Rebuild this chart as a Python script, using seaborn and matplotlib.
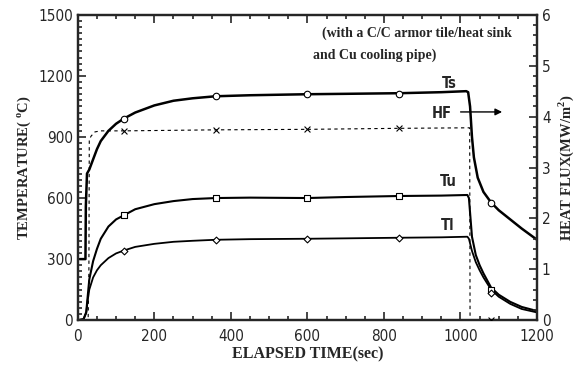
import numpy as np
import pandas as pd
import matplotlib.pyplot as plt
import seaborn as sns
from matplotlib.ticker import MultipleLocator

# surface temperature Ts
ts_t = [5, 20, 21, 24, 30, 40, 50, 60, 80, 100, 120, 150, 200, 250, 300, 360, 450, 600, 700, 840, 950, 1015,
        1020, 1025, 1030, 1035, 1045, 1060, 1080, 1100, 1130, 1160, 1200]
ts_v = [300, 300, 560, 720, 740, 790, 840, 880, 930, 965, 990, 1020, 1055, 1078, 1090, 1100, 1105, 1110, 1112, 1115, 1120, 1125,
        1120, 1050, 900, 800, 700, 630, 578, 540, 495, 450, 395]
# upper thermocouple Tu
tu_t = [0, 15, 22, 26, 30, 40, 50, 60, 80, 100, 120, 150, 200, 250, 300, 360, 450, 600, 700, 840, 950, 1018,
        1022, 1030, 1040, 1050, 1060, 1080, 1100, 1130, 1160, 1200]
tu_v = [0, 5, 40, 120, 200, 290, 350, 400, 460, 495, 515, 545, 570, 585, 595, 600, 602, 600, 605, 610, 612, 615,
        600, 410, 320, 270, 230, 160, 125, 90, 65, 45]
# lower thermocouple Tl
tl_t = [0, 15, 22, 26, 30, 40, 50, 60, 80, 100, 120, 150, 200, 250, 300, 360, 450, 600, 700, 840, 950, 1018,
        1022, 1030, 1040, 1050, 1060, 1080, 1100, 1130, 1160, 1200]
tl_v = [0, 5, 35, 100, 150, 210, 245, 270, 305, 328, 342, 360, 375, 385, 390, 395, 398, 400, 402, 405, 407, 410,
        400, 340, 285, 245, 210, 150, 115, 80, 55, 38]
# heat flux HF (MW/m2)
hf_t = [0, 27, 29, 30, 35, 45, 60, 120, 360, 600, 840, 1020, 1024, 1025, 1200]
hf_v = [0, 0, 1.0, 3.55, 3.62, 3.70, 3.72, 3.72, 3.74, 3.75, 3.77, 3.78, 3.78, 0, 0]

# marker positions
mk_t = [120, 360, 600, 840, 1080]
ts_mk = [990, 1100, 1110, 1112, 578]
tu_mk = [515, 600, 600, 612, 150]
tl_mk = [342, 395, 400, 405, 132]
hf_mk_t = [120, 360, 600, 840, 1080]
hf_mk = [3.72, 3.74, 3.75, 3.77, 0.0]

sns.set_style("ticks")
plt.rcParams['font.family'] = ['DejaVu Sans']
plt.rcParams['font.stretch'] = 'condensed'
serif = ['Liberation Serif', 'DejaVu Serif']

fig = plt.figure(figsize=(5.85, 3.71), dpi=100)
ax = fig.add_axes([0.133, 0.137, 0.785, 0.823])
ax2 = ax.twinx()

df_ts = pd.DataFrame({"t": ts_t, "v": ts_v})
df_tu = pd.DataFrame({"t": tu_t, "v": tu_v})
df_tl = pd.DataFrame({"t": tl_t, "v": tl_v})
df_hf = pd.DataFrame({"t": hf_t, "v": hf_v})

sns.lineplot(data=df_ts, x="t", y="v", ax=ax, color="black", lw=1.8, sort=False)
sns.lineplot(data=df_tu, x="t", y="v", ax=ax, color="black", lw=1.5, sort=False)
sns.lineplot(data=df_tl, x="t", y="v", ax=ax, color="black", lw=1.3, sort=False)
sns.lineplot(data=df_hf, x="t", y="v", ax=ax2, color="black", lw=0.8, sort=False, linestyle=(0, (3, 3)))

ax.scatter(mk_t, ts_mk, marker="o", s=22, facecolor="white", edgecolor="black", lw=0.8, zorder=3)
ax.scatter(mk_t, tu_mk, marker="s", s=20, facecolor="white", edgecolor="black", lw=0.8, zorder=3)
ax.scatter(mk_t, tl_mk, marker="D", s=12, facecolor="white", edgecolor="black", lw=0.8, zorder=3)
ax2.scatter(hf_mk_t, hf_mk, marker="x", s=18, color="black", lw=0.8, zorder=3)

ax.set_xlim(0, 1200)
ax.set_ylim(0, 1500)
ax2.set_ylim(0, 6)
ax.xaxis.set_major_locator(MultipleLocator(200))
ax.xaxis.set_minor_locator(MultipleLocator(50))
ax.yaxis.set_major_locator(MultipleLocator(300))
ax.yaxis.set_minor_locator(MultipleLocator(30))
ax2.yaxis.set_major_locator(MultipleLocator(1))
ax2.yaxis.set_minor_locator(MultipleLocator(0.2))

ax.tick_params(which="both", direction="in", top=True, width=1.2, labelsize=11)
ax.tick_params(which="major", length=6)
ax.tick_params(which="minor", length=3)
ax.tick_params(axis="x", pad=6)
ax.tick_params(axis="y", which="both", right=False)
ax2.tick_params(which="both", direction="in", width=1.2, labelsize=11)
ax2.tick_params(which="major", length=6)
ax2.tick_params(which="minor", length=3)
for a in (ax, ax2):
    for s in a.spines.values():
        s.set_linewidth(1.6)
        s.set_visible(True)

ax.set_xlabel("ELAPSED TIME(sec)", family=serif, fontweight="bold", fontsize=11.5, labelpad=2)
ax.set_ylabel("TEMPERATURE( $^{\\mathregular{o}}$C)", family=serif, fontweight="bold", fontsize=10.5)
ax2.set_ylabel("HEAT FLUX(MW/m$^{\\mathregular{2}}$)", family=serif, fontweight="bold", fontsize=10.5)

ax.text(638, 1411, "(with a C/C armor tile/heat sink", family=serif, fontweight="bold", fontsize=10,
        va="center")
ax.text(615, 1303, "and Cu cooling pipe)", family=serif, fontweight="bold", fontsize=10, va="center")
ax.text(952, 1165, "Ts", fontweight="bold", fontsize=10.5, va="center")
ax.text(925, 1013, "HF", fontweight="bold", fontsize=10.5, va="center")
ax.annotate("", xy=(1116, 1023), xytext=(993, 1023),
            arrowprops=dict(arrowstyle="-|>", color="black", lw=1))
ax.text(945, 679, "Tu", fontweight="bold", fontsize=10.5, va="center")
ax.text(950, 467, "Tl", fontweight="bold", fontsize=10.5, va="center")

plt.savefig("out.png", dpi=100)
